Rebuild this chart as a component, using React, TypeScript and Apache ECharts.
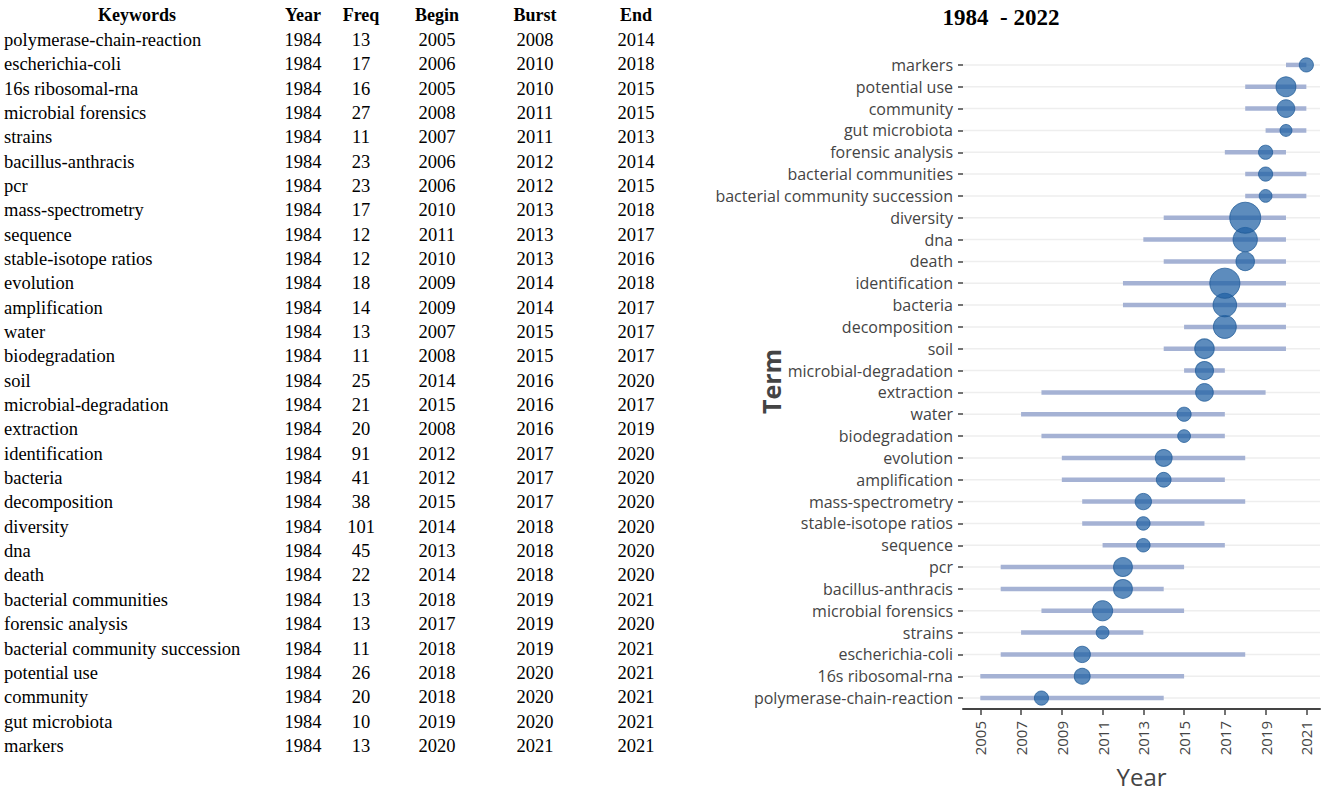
import React, { useEffect, useRef } from "react";
import * as echarts from "echarts";

// ---- Table data (order of the table, top to bottom) ----
const keywords = [
  "polymerase-chain-reaction", "escherichia-coli", "16s ribosomal-rna", "microbial forensics",
  "strains", "bacillus-anthracis", "pcr", "mass-spectrometry", "sequence", "stable-isotope ratios",
  "evolution", "amplification", "water", "biodegradation", "soil", "microbial-degradation",
  "extraction", "identification", "bacteria", "decomposition", "diversity", "dna", "death",
  "bacterial communities", "forensic analysis", "bacterial community succession", "potential use",
  "community", "gut microbiota", "markers",
];
const startYear = [
  1984, 1984, 1984, 1984, 1984, 1984, 1984, 1984, 1984, 1984, 1984, 1984, 1984, 1984, 1984,
  1984, 1984, 1984, 1984, 1984, 1984, 1984, 1984, 1984, 1984, 1984, 1984, 1984, 1984, 1984,
];
const freq = [13, 17, 16, 27, 11, 23, 23, 17, 12, 12, 18, 14, 13, 11, 25, 21, 20, 91, 41, 38, 101, 45, 22, 13, 13, 11, 26, 20, 10, 13];
const begin = [2005, 2006, 2005, 2008, 2007, 2006, 2006, 2010, 2011, 2010, 2009, 2009, 2007, 2008, 2014, 2015, 2008, 2012, 2012, 2015, 2014, 2013, 2014, 2018, 2017, 2018, 2018, 2018, 2019, 2020];
const burst = [2008, 2010, 2010, 2011, 2011, 2012, 2012, 2013, 2013, 2013, 2014, 2014, 2015, 2015, 2016, 2016, 2016, 2017, 2017, 2017, 2018, 2018, 2018, 2019, 2019, 2019, 2020, 2020, 2020, 2021];
const end = [2014, 2018, 2015, 2015, 2013, 2014, 2015, 2018, 2017, 2016, 2018, 2017, 2017, 2017, 2020, 2017, 2019, 2020, 2020, 2020, 2020, 2020, 2020, 2021, 2020, 2021, 2021, 2021, 2021, 2021];
const tableHeaders = ["Keywords", "Year", "Freq", "Begin", "Burst", "End"];

// ---- Chart term order (bottom to top) ----
const termOrder = [
  "polymerase-chain-reaction", "16s ribosomal-rna", "escherichia-coli", "strains", "microbial forensics",
  "bacillus-anthracis", "pcr", "sequence", "stable-isotope ratios", "mass-spectrometry", "amplification",
  "evolution", "biodegradation", "water", "extraction", "microbial-degradation", "soil", "decomposition",
  "bacteria", "identification", "death", "dna", "diversity", "bacterial community succession",
  "bacterial communities", "forensic analysis", "gut microbiota", "community", "potential use", "markers",
];
const xTickYears = [2005, 2007, 2009, 2011, 2013, 2015, 2017, 2019, 2021];
const chartTitle = "1984  - 2022";

const TABLE_FONT = "'Liberation Serif', 'Times New Roman', serif";
const SANS = "'Open Sans', 'Noto Sans', sans-serif";

export default function App() {
  const ref = useRef<HTMLDivElement>(null);
  useEffect(() => {
    if (!ref.current) return;
    const chart = echarts.init(ref.current, null, { renderer: "svg" });

    const idxOf = (t: string) => keywords.indexOf(t);
    const rangeData = termOrder.map((t) => {
      const i = idxOf(t);
      return [t, begin[i], end[i]];
    });
    const burstData = termOrder.map((t) => {
      const i = idxOf(t);
      return [burst[i], t, freq[i]];
    });

    // table as text graphics
    const colX = [4, 303, 361, 437, 535, 636];
    const headerY = 15;
    const rowY0 = 40;
    const rowStep = 24.34;
    const tableEls: any[] = [];
    tableHeaders.forEach((h, c) => {
      tableEls.push({
        type: "text",
        x: c === 0 ? 137 : colX[c],
        y: headerY,
        style: {
          text: h,
          font: `bold 18px ${TABLE_FONT}`,
          fill: "#000",
          textAlign: "center",
          textVerticalAlign: "middle",
        },
      });
    });
    keywords.forEach((k, r) => {
      const y = rowY0 + r * rowStep;
      const vals = [k, String(startYear[r]), String(freq[r]), String(begin[r]), String(burst[r]), String(end[r])];
      vals.forEach((v, c) => {
        tableEls.push({
          type: "text",
          x: colX[c],
          y,
          style: {
            text: v,
            font: `18.5px ${TABLE_FONT}`,
            fill: "#000",
            textAlign: c === 0 ? "left" : "center",
            textVerticalAlign: "middle",
          },
        });
      });
    });
    tableEls.push({
      type: "text",
      x: 1001,
      y: 17,
      style: {
        text: chartTitle,
        font: `bold 23px ${TABLE_FONT}`,
        fill: "#000",
        textAlign: "center",
        textVerticalAlign: "middle",
      },
    });

    chart.setOption({
      animation: false,
      backgroundColor: "#ffffff",
      graphic: { elements: tableEls },
      grid: { left: 963, right: 5, top: 54, height: 655, containLabel: false },
      xAxis: {
        type: "value",
        min: 2004.15,
        max: 2021.67,
        name: "Year",
        nameLocation: "middle",
        nameGap: 55,
        nameMoveOverlap: false,
        nameTextStyle: { fontSize: 24, color: "#444", fontFamily: SANS },
        axisLine: { show: true, lineStyle: { color: "#444", width: 2 } },
        axisTick: { show: true, length: 6, lineStyle: { color: "#444", width: 1.5 }, customValues: xTickYears },
        axisLabel: {
          rotate: 90,
          fontSize: 15,
          color: "#444",
          fontFamily: SANS,
          margin: 12,
          customValues: xTickYears,
          formatter: (v: number) => String(Math.round(v)),
        },
        splitLine: { show: false },
      },
      yAxis: {
        type: "category",
        data: termOrder,
        boundaryGap: true,
        name: "Term",
        nameLocation: "middle",
        nameGap: 180,
        nameMoveOverlap: false,
        nameTextStyle: { fontSize: 25, fontWeight: "bold", color: "#444", fontFamily: SANS },
        axisLine: { show: false },
        axisTick: { show: true, alignWithLabel: true, length: 5, lineStyle: { color: "#444", width: 1.5 } },
        axisLabel: { fontSize: 16, color: "#444", fontFamily: SANS, margin: 10 },
        splitLine: { show: false },
      },
      series: [
        {
          type: "custom",
          data: rangeData,
          encode: { y: 0, x: [1, 2] },
          z: 1,
          renderItem: (params: any, api: any) => {
            const cat = api.value(0);
            const p0 = api.coord([api.value(1), cat]);
            const p1 = api.coord([api.value(2), cat]);
            const cs = params.coordSys;
            return {
              type: "group",
              children: [
                {
                  type: "line",
                  shape: { x1: cs.x, y1: p0[1], x2: cs.x + cs.width, y2: p0[1] },
                  style: { stroke: "#eeeeee", lineWidth: 1.5 },
                },
                {
                  type: "line",
                  shape: { x1: p0[0], y1: p0[1], x2: p1[0], y2: p1[1] },
                  style: { stroke: "#a5b2d4", lineWidth: 4.5 },
                },
              ],
            };
          },
        },
        {
          type: "scatter",
          data: burstData,
          z: 3,
          symbol: "circle",
          symbolSize: (v: number[]) => 8.25 * Math.log(v[2]) - 7,
          itemStyle: { color: "#1f60a3", opacity: 0.72, borderColor: "#1a5794", borderWidth: 1 },
        },
      ],
    });
    return () => chart.dispose();
  }, []);
  return <div ref={ref} style={{ position: "fixed", left: 0, top: 0, width: 1325, height: 793 }} />;
}
